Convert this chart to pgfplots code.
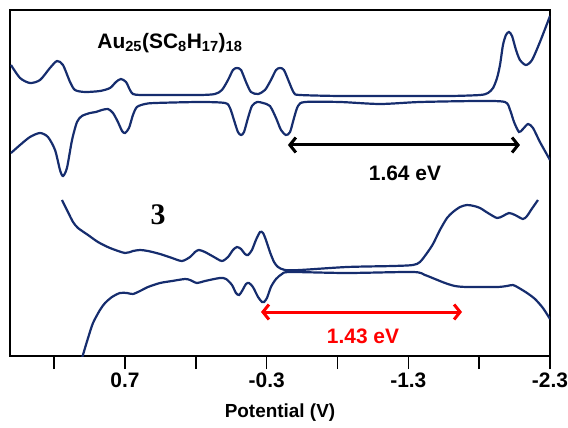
\documentclass[border=0pt]{standalone}
\usepackage{fontspec}
\setmainfont{Liberation Sans}
\newfontfamily\serifbold{Liberation Serif}
\usepackage{pgfplots}
\pgfplotsset{compat=1.18}
\usetikzlibrary{arrows.meta}
\definecolor{cvblue}{RGB}{22,45,110}

\begin{document}
\begin{tikzpicture}[x=1bp,y=1bp]
\useasboundingbox (0,0) rectangle (568,427);
\begin{axis}[
  at={(10bp,71bp)}, anchor=south west,
  scale only axis, width=540bp, height=346bp,
  x dir=reverse, xmin=-2.3, xmax=1.512,
  ymin=0, ymax=346,
  axis line style={line width=1.6bp, black},
  xtick={-2.3,-1.8,-1.3,-0.8,-0.3,0.2,0.7,1.2},
  xticklabels={\textbf{-2.3},,\textbf{-1.3},,\textbf{-0.3},,\textbf{0.7},},
  xtick pos=left,
  tick align=outside,
  major tick length=13bp,
  every tick/.style={black, line width=1.6bp},
  ytick=\empty,
  xticklabel style={font=\fontsize{21}{24}\selectfont\bfseries},
  xlabel={\textbf{Potential (V)}},
  xlabel style={font=\fontsize{19}{22}\selectfont\bfseries, yshift=-10bp},
  clip=true,
]
% top panel, upper branch
\addplot[cvblue, line width=2.2bp, smooth, tension=0.45] coordinates {
(1.505,291) (1.441,278) (1.371,273) (1.300,276) (1.230,288) (1.180,295) (1.138,291)
(1.088,274) (1.053,266) (0.983,264) (0.877,265) (0.806,268) (0.764,274) (0.729,277)
(0.693,274) (0.665,266) (0.644,262) (0.594,261) (0.453,261) (0.171,261) (0.065,262)
(0.016,266) (-0.027,276) (-0.062,286) (-0.090,288) (-0.119,286) (-0.154,274) (-0.189,264)
(-0.239,262) (-0.288,266) (-0.330,276) (-0.366,286) (-0.394,288) (-0.422,286) (-0.458,274)
(-0.493,263) (-0.535,261) (-0.818,260) (-1.241,260) (-1.594,260) (-1.806,261) (-1.862,263)
(-1.898,268) (-1.926,278) (-1.947,291) (-1.968,311) (-1.989,321) (-2.010,324) (-2.032,320)
(-2.060,306) (-2.088,296) (-2.130,291) (-2.173,296) (-2.229,314) (-2.300,340)
};
% top panel, lower branch
\addplot[cvblue, line width=2.2bp, smooth, tension=0.45] coordinates {
(1.505,203) (1.441,211) (1.371,219) (1.300,223) (1.244,219) (1.194,206) (1.159,186)
(1.138,180) (1.110,188) (1.074,216) (1.039,234) (1.004,240) (0.947,243) (0.905,244)
(0.863,246) (0.820,247) (0.785,243) (0.750,234) (0.721,225) (0.700,223) (0.672,228)
(0.644,241) (0.616,249) (0.559,252) (0.488,253) (0.171,254) (-0.006,253) (-0.041,248)
(-0.069,236) (-0.097,224) (-0.119,221) (-0.140,224) (-0.168,238) (-0.196,250) (-0.232,254)
(-0.274,253) (-0.323,250) (-0.366,238) (-0.401,226) (-0.436,221) (-0.465,224) (-0.493,238)
(-0.521,250) (-0.570,254) (-0.818,254) (-1.100,252) (-1.382,254) (-1.806,255) (-1.982,254)
(-2.018,246) (-2.046,234) (-2.081,224) (-2.109,227) (-2.145,232) (-2.180,228) (-2.229,214)
(-2.300,196)
};
% bottom panel, upper branch
\addplot[cvblue, line width=2.2bp, smooth, tension=0.45] coordinates {
(1.145,156) (1.103,144) (1.067,134) (1.032,128) (0.961,121) (0.891,114) (0.806,108)
(0.700,103) (0.644,105) (0.594,106) (0.538,105) (0.453,102) (0.368,98) (0.298,95)
(0.241,99) (0.206,104) (0.178,106) (0.136,104) (0.072,99) (0.016,95) (-0.027,99)
(-0.062,106) (-0.090,109) (-0.119,107) (-0.147,102) (-0.168,101) (-0.196,106) (-0.224,116)
(-0.253,124) (-0.274,123) (-0.295,116) (-0.323,104) (-0.352,94) (-0.380,89) (-0.429,86)
(-0.535,86) (-0.867,89) (-1.192,90) (-1.333,91) (-1.382,94) (-1.432,103) (-1.474,112)
(-1.523,126) (-1.573,138) (-1.615,144) (-1.665,149) (-1.714,151) (-1.763,150) (-1.806,148)
(-1.862,143) (-1.926,138) (-1.968,140) (-2.010,143) (-2.053,141) (-2.109,137) (-2.138,140)
(-2.166,146) (-2.215,156)
};
% bottom panel, lower branch
\addplot[cvblue, line width=2.2bp, smooth, tension=0.45] coordinates {
(1.018,-10) (0.997,1) (0.961,18) (0.926,33) (0.877,46) (0.841,53) (0.792,59) (0.736,63)
(0.686,63) (0.644,62) (0.594,65) (0.538,69) (0.453,73) (0.368,75) (0.277,77) (0.241,76)
(0.192,73) (0.136,75) (0.030,78) (-0.013,77) (-0.055,71) (-0.083,63) (-0.105,61)
(-0.126,65) (-0.154,72) (-0.175,73) (-0.203,69) (-0.239,59) (-0.267,54) (-0.281,54)
(-0.302,58) (-0.330,69) (-0.366,77) (-0.408,82) (-0.465,84) (-0.867,83) (-1.333,84)
(-1.417,81) (-1.488,77) (-1.559,73) (-1.629,70) (-1.714,69) (-1.926,69) (-1.996,70)
(-2.039,71) (-2.081,68) (-2.138,63) (-2.194,57) (-2.250,48) (-2.300,37)
};
% annotations
\draw[black, line width=3bp, {Straight Barb[length=6bp,width=15bp]}-{Straight Barb[length=6bp,width=15bp]}]
  (axis cs:-0.450,211) -- (axis cs:-2.088,211);
\node[font=\fontsize{21}{24}\selectfont\bfseries] at (axis cs:-1.276,183) {1.64 eV};
\draw[red, line width=3bp, {Straight Barb[length=6bp,width=15bp]}-{Straight Barb[length=6bp,width=15bp]}]
  (axis cs:-0.260,44) -- (axis cs:-1.679,44);
\node[red, font=\fontsize{21}{24}\selectfont\bfseries] at (axis cs:-0.980,20) {1.43 eV};
\node[font=\fontsize{21}{24}\selectfont\bfseries] at (axis cs:0.383,313)
  {Au\textsubscript{25}(SC\textsubscript{8}H\textsubscript{17})\textsubscript{18}};
\node[font=\fontsize{30}{34}\selectfont\serifbold\bfseries] at (axis cs:0.467,141) {3};
\end{axis}
\end{tikzpicture}
\end{document}
